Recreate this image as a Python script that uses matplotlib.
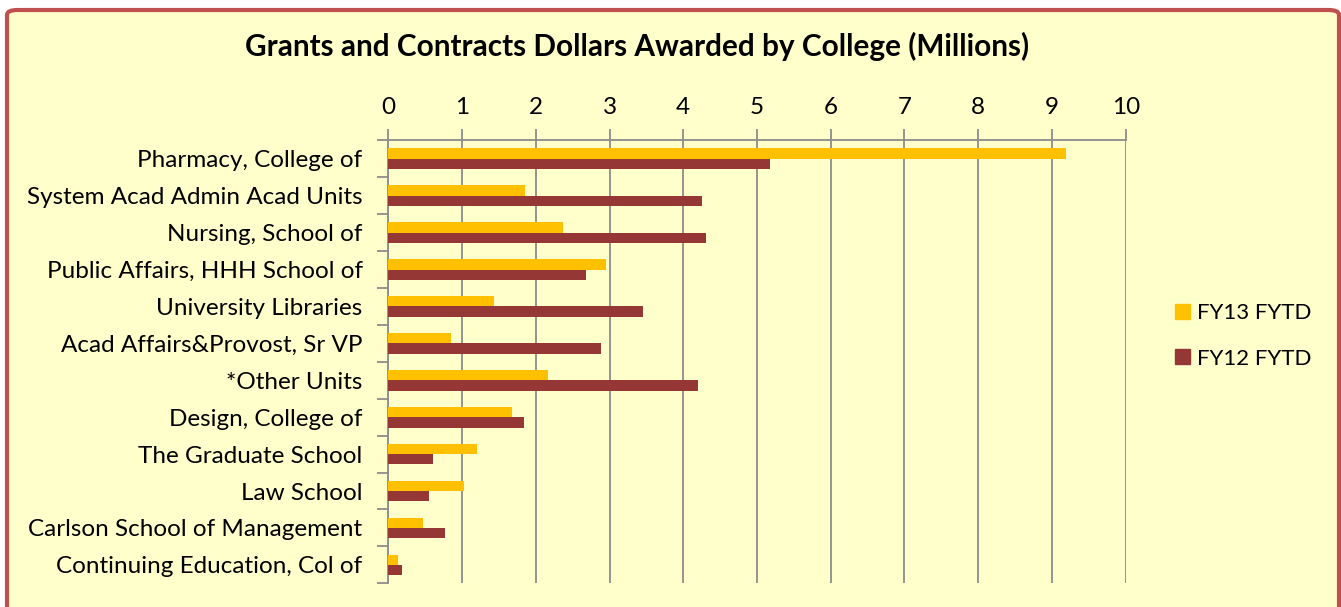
import numpy as np
import matplotlib.pyplot as plt
from matplotlib.patches import FancyBboxPatch, Patch

colleges = ['Pharmacy, College of', 'System Acad Admin Acad Units', 'Nursing, School of',
            'Public Affairs, HHH School of', 'University Libraries', 'Acad Affairs&Provost, Sr VP',
            '*Other Units', 'Design, College of', 'The Graduate School', 'Law School',
            'Carlson School of Management', 'Continuing Education, Col of']
fy13 = [9.19, 1.86, 2.37, 2.95, 1.44, 0.85, 2.17, 1.68, 1.20, 1.02, 0.47, 0.13]
fy12 = [5.18, 4.25, 4.31, 2.68, 3.45, 2.89, 4.20, 1.84, 0.60, 0.55, 0.77, 0.18]
xticks = list(range(0, 11))

plt.rcParams['font.family'] = ['Lato', 'DejaVu Sans']
bg = '#FFFFCC'
grid_c = '#8C8C8C'

fig = plt.figure(figsize=(13.41, 6.07), dpi=100)
fig.patch.set_facecolor('white')
frame = FancyBboxPatch((7 / 1341, -0.2), 1332 / 1341, 0.2 + 1 - 10 / 607,
                       boxstyle='round,pad=0,rounding_size=0.008', transform=fig.transFigure,
                       facecolor=bg, edgecolor='#C0504D', linewidth=3, zorder=-10)
fig.patches.append(frame)

ax = fig.add_axes([388.3 / 1341, 1 - 583.3 / 607, (1125.7 - 388.3) / 1341, (583.3 - 140.3) / 607])
ax.set_facecolor(bg)
ax.patch.set_alpha(0)

y = np.arange(len(colleges))
h = 0.28
ax.barh(y - h / 2, fy13, height=h, color='#FFC000', label='FY13 FYTD', zorder=3)
ax.barh(y + h / 2, fy12, height=h, color='#953735', label='FY12 FYTD', zorder=3)

ax.set_xlim(0, 10)
ax.set_ylim(len(colleges) - 0.5, -0.5)
ax.xaxis.tick_top()
ax.set_xticks(xticks)
ax.tick_params(axis='x', direction='out', length=8, width=1.3, color=grid_c, pad=8, labelsize=17.5)
ax.set_yticks(y)
ax.set_yticklabels(colleges)
ax.tick_params(axis='y', which='major', length=0, pad=18.5, labelsize=17.5)
ax.set_yticks(np.arange(-0.5, len(colleges)), minor=True)
ax.tick_params(axis='y', which='minor', direction='out', length=8, width=1.3, color=grid_c)
ax.grid(axis='x', color=grid_c, linewidth=1.3, zorder=1)
ax.set_axisbelow(True)
for s in ['right', 'bottom']:
    ax.spines[s].set_visible(False)
for s in ['top', 'left']:
    ax.spines[s].set_color(grid_c)
    ax.spines[s].set_linewidth(1.3)

fig.text(637 / 1341, 1 - 46 / 607, 'Grants and Contracts Dollars Awarded by College (Millions)',
         ha='center', va='center', fontsize=21.4, fontweight='bold')

handles = [Patch(color='#FFC000', label='FY13 FYTD'), Patch(color='#953735', label='FY12 FYTD')]
fig.legend(handles=handles, loc='upper left', bbox_to_anchor=(1164 / 1341, 1 - 292 / 607),
           frameon=False, fontsize=16, handlelength=0.65, handleheight=0.65, borderpad=0,
           handletextpad=0.35, labelspacing=1.15)

fig.savefig('out.png', dpi=100, facecolor=fig.get_facecolor())
